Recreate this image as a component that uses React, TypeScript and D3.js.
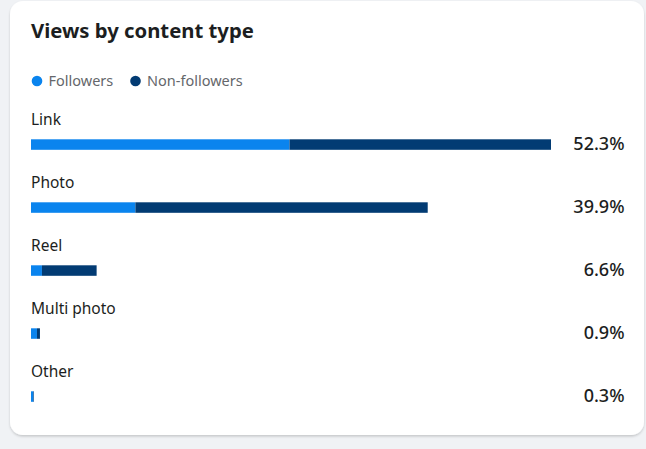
import React from "react";
import * as d3 from "d3";

const categories = ["Link", "Photo", "Reel", "Multi photo", "Other"];
const totals = [52.3, 39.9, 6.6, 0.9, 0.3];
const followers = [26.0, 10.5, 1.1, 0.6, 0.25];
const seriesNames = ["Followers", "Non-followers"];
const colors = ["#0a84ee", "#023b73"];

const W = 646;
const H = 449;
const FONT = "'Noto Sans', 'Open Sans', sans-serif";

export default function App() {
  const x = d3.scaleLinear().domain([0, d3.max(totals) as number]).range([31, 551]);
  const rowY = d3.scaleLinear().domain([0, 1]).range([0, 63]);
  const barH = 10.5;
  const barTop0 = 139.3;
  const labelBase0 = 124.5;

  return (
    <div style={{ position: "absolute", left: 0, top: 0, width: W, height: H }}>
      <svg width={W} height={H} style={{ display: "block" }} fontFamily={FONT}>
        <defs>
          <filter id="sh" x="-5%" y="-5%" width="110%" height="115%">
            <feDropShadow dx="0" dy="1.5" stdDeviation="1.2" floodColor="#000" floodOpacity="0.18" />
          </filter>
        </defs>
        <rect x={0} y={0} width={W} height={H} fill="#f0f2f5" />
        <rect x={10} y={1} width={634} height={434} rx={13} ry={13} fill="#ffffff" filter="url(#sh)" />
        <text x={31} y={37.5} fontSize={20.3} fontWeight={700} fill="#1c1e21">
          Views by content type
        </text>
        {seriesNames.map((s, i) => {
          const cx = i === 0 ? 37 : 135.5;
          return (
            <g key={s}>
              <circle cx={cx} cy={81} r={5.3} fill={colors[i]} />
              <text x={cx + 11.5} y={86} fontSize={14.5} fill="#65676b">
                {s}
              </text>
            </g>
          );
        })}
        {categories.map((c, i) => {
          const dy = rowY(i);
          const top = barTop0 + dy;
          return (
            <g key={c}>
              <text x={31} y={labelBase0 + dy} fontSize={15.5} fill="#1c1e21">
                {c}
              </text>
              <rect x={x(0)} y={top} width={x(followers[i]) - x(0)} height={barH} fill={colors[0]} />
              <rect
                x={x(followers[i])}
                y={top}
                width={x(totals[i]) - x(followers[i])}
                height={barH}
                fill={colors[1]}
              />
              <text
                x={624.5}
                y={top + barH + 0.5}
                fontSize={18}
                fontWeight={500}
                textAnchor="end"
                fill="#1c1e21"
              >
                {totals[i].toFixed(1)}%
              </text>
            </g>
          );
        })}
      </svg>
    </div>
  );
}
